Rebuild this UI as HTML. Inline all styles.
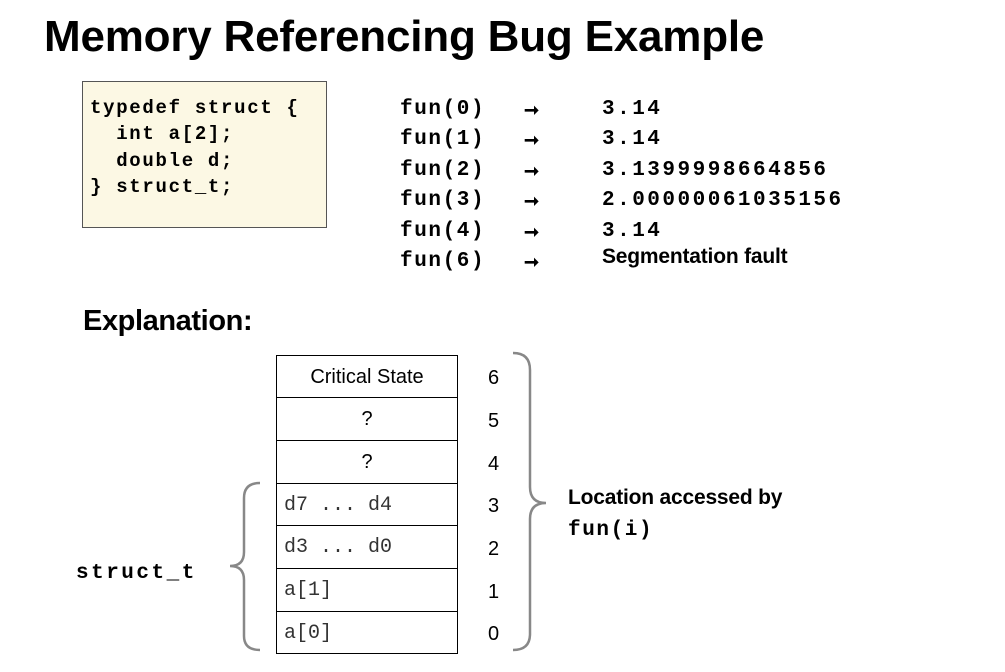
<!DOCTYPE html>
<html><head><style>
body{margin:0;width:1005px;height:672px;background:#fff;position:relative;overflow:hidden;font-family:"Liberation Sans",sans-serif;}
.a{position:absolute;white-space:nowrap;}
.m{font-family:"Liberation Mono",monospace;font-weight:bold;}
.cell{position:absolute;left:276px;width:182px;border:1.5px solid #000;box-sizing:border-box;font-size:20px;line-height:43px;}
.rn{position:absolute;left:488px;font-size:20px;}
</style></head><body>
<div class="a" style="left:44px;top:12px;font-size:44px;font-weight:bold;letter-spacing:-0.2px;">Memory Referencing Bug Example</div>
<div class="a" style="left:82px;top:81px;width:245px;height:147px;background:#fcf8e4;border:1px solid #555;box-sizing:border-box;"></div>
<div class="a m" style="left:90px;top:95px;font-size:19px;line-height:26.3px;letter-spacing:1.7px;white-space:pre;">typedef struct {
  int a[2];
  double d;
} struct_t;</div>
<div class="a m" style="left:400px;top:95px;font-size:21px;line-height:30.4px;letter-spacing:1.6px;white-space:pre;">fun(0)
fun(1)
fun(2)
fun(3)
fun(4)
fun(6)</div>
<div class="a" style="left:524px;top:95px;font-size:18px;line-height:30.4px;font-weight:bold;white-space:pre;">➞
➞
➞
➞
➞
➞</div>
<div class="a m" style="left:602px;top:95px;font-size:21px;line-height:30.4px;letter-spacing:2.5px;white-space:pre;">3.14
3.14
3.1399998664856
2.00000061035156
3.14</div>
<div class="a" style="left:602px;top:245px;font-size:21px;font-weight:bold;letter-spacing:-0.2px;">Segmentation fault</div>
<div class="a" style="left:83px;top:305px;font-size:29px;font-weight:bold;letter-spacing:-0.4px;">Explanation:</div>

<div class="cell" style="top:355px;height:43px;text-align:center;">Critical State</div>
<div class="cell" style="top:397px;height:44px;text-align:center;">?</div>
<div class="cell" style="top:440px;height:44px;text-align:center;">?</div>
<div class="cell" style="top:483px;height:43px;font-family:'Liberation Mono',monospace;color:#333;padding-left:7px;">d7 ... d4</div>
<div class="cell" style="top:525px;height:44px;font-family:'Liberation Mono',monospace;color:#333;padding-left:7px;">d3 ... d0</div>
<div class="cell" style="top:568px;height:44px;font-family:'Liberation Mono',monospace;color:#333;padding-left:7px;">a[1]</div>
<div class="cell" style="top:611px;height:43px;font-family:'Liberation Mono',monospace;color:#333;padding-left:7px;">a[0]</div>
<div class="rn" style="top:367px">6</div>
<div class="rn" style="top:410px">5</div>
<div class="rn" style="top:453px">4</div>
<div class="rn" style="top:495px">3</div>
<div class="rn" style="top:538px">2</div>
<div class="rn" style="top:581px">1</div>
<div class="rn" style="top:623px">0</div>
<svg class="a" style="left:0;top:0" width="1005" height="672">
<path d="M513,353 Q530,353 530,370 L530,487 Q530,503 546,503 Q530,503 530,519 L530,634 Q530,650 513,650" fill="none" stroke="#888" stroke-width="2.5"/>
<path d="M260,483 Q244,483 244,498 L244,552 Q244,566 230,566 Q244,566 244,580 L244,636 Q244,650 260,650" fill="none" stroke="#888" stroke-width="2.5"/>
</svg>
<div class="a" style="left:568px;top:486px;font-size:21px;font-weight:bold;letter-spacing:-0.2px;">Location accessed by</div>
<div class="a m" style="left:568px;top:519px;font-size:21px;letter-spacing:1.6px;">fun(i)</div>
<div class="a m" style="left:76px;top:562px;font-size:21px;letter-spacing:2.5px;">struct_t</div>
</body></html>
